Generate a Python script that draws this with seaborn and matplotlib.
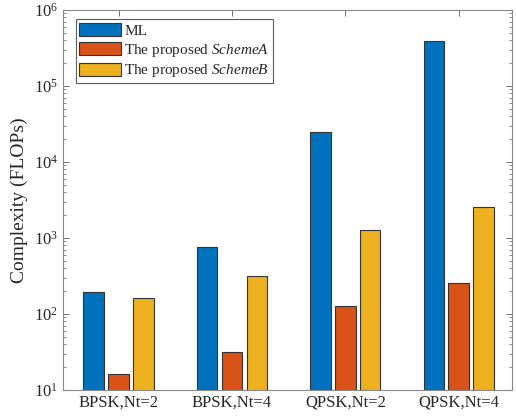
import matplotlib
matplotlib.use("Agg")
import matplotlib.pyplot as plt
import seaborn as sns
import pandas as pd
from matplotlib.ticker import LogLocator, NullFormatter

categories = ["BPSK,Nt=2", "BPSK,Nt=4", "QPSK,Nt=2", "QPSK,Nt=4"]
ml = [192, 768, 24576, 393216]
scheme_a = [16, 32, 128, 256]
scheme_b = [160, 320, 1280, 2560]
series_names = ["ML", r"The proposed $\mathit{SchemeA}$", r"The proposed $\mathit{SchemeB}$"]
colors = ["#0072BD", "#D95319", "#EDB120"]

rows = []
for name, vals in zip(series_names, [ml, scheme_a, scheme_b]):
    for c, v in zip(categories, vals):
        rows.append({"cat": c, "series": name, "value": v})
df = pd.DataFrame(rows)

sns.set_theme(style="white")
plt.rcParams["font.family"] = ["Liberation Serif", "DejaVu Serif"]
plt.rcParams["mathtext.fontset"] = "custom"
plt.rcParams["mathtext.it"] = "Liberation Serif:italic"
plt.rcParams["mathtext.rm"] = "Liberation Serif"

fig = plt.figure(figsize=(5.16, 4.2), dpi=100)
ax = fig.add_axes([63/516, 1-390/420, (512-63)/516, (390-10)/420])

sns.barplot(data=df, x="cat", y="value", hue="series", palette=colors,
            width=0.66, gap=0.18, edgecolor="#333333", linewidth=0.8,
            ax=ax, log_scale=(False, True), saturation=1)

ax.set_yscale("log")
ax.set_ylim(10, 1e6)
ax.set_xlim(-0.49, 3.47)
ax.set_xlabel("")
ax.set_ylabel("Complexity (FLOPs)", fontsize=14)
ax.yaxis.set_major_locator(LogLocator(base=10, numticks=10))
ax.yaxis.set_minor_locator(LogLocator(base=10, subs=range(2, 10), numticks=20))
ax.yaxis.set_minor_formatter(NullFormatter())
ax.tick_params(axis="both", which="both", direction="in", top=True, right=True,
               labelsize=12, colors="#262626", bottom=True, left=True)
ax.tick_params(axis="both", which="major", length=4, width=0.6, color="#555555")
ax.tick_params(axis="y", which="minor", length=2, width=0.5, color="#555555")
ax.tick_params(axis="x", which="minor", bottom=False, top=False)
for s in ax.spines.values():
    s.set_visible(True)
    s.set_color("#888888")
    s.set_linewidth(0.8)

leg = ax.legend(loc="upper left", fontsize=11, frameon=True, fancybox=False,
                edgecolor="#333333", handlelength=2.75, handleheight=0.95,
                bbox_to_anchor=(0.028, 0.976), borderaxespad=0.0,
                labelspacing=0.25, handletextpad=0.2, borderpad=0.25)
leg.get_frame().set_linewidth(0.8)

fig.savefig("out.png", dpi=100)
